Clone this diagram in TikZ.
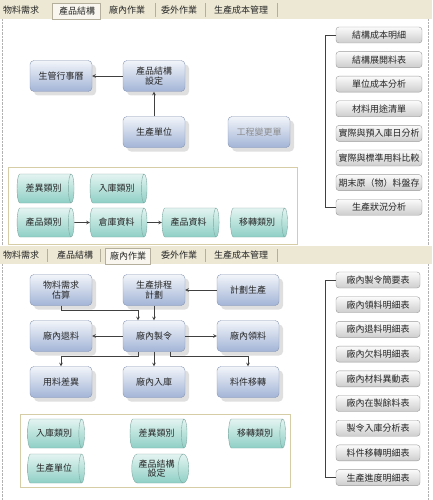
\documentclass[tikz,border=0pt]{standalone}
\usepackage{fontspec}
\setmainfont{Noto Sans CJK TC}
\usepackage{tikz}
\usetikzlibrary{shapes.geometric,shadows}
\usepackage{xcolor}
\definecolor{TabBeige}{HTML}{ECE8D4}
\definecolor{TabLine}{HTML}{B4AE9C}
\definecolor{TabAktif}{HTML}{F8F6EE}
\definecolor{BoxTop}{HTML}{F2F5FA}
\definecolor{BoxBot}{HTML}{A2B4D6}
\definecolor{BoxLine}{HTML}{8796B4}
\definecolor{CylTop}{HTML}{E4F4F1}
\definecolor{CylBot}{HTML}{8ECFC5}
\definecolor{CylLine}{HTML}{7FA9A2}
\definecolor{RepTop}{HTML}{FBFBFB}
\definecolor{RepBot}{HTML}{CDCDCD}
\definecolor{RepLine}{HTML}{9A9A9A}
\definecolor{FrameTan}{HTML}{D6CDA6}
\definecolor{TextGray}{HTML}{262626}

\begin{document}
\begin{tikzpicture}[x=1pt,y=-1pt,
    blok/.style={draw=BoxLine,rounded corners=4pt,top color=BoxTop,bottom color=BoxBot,
      minimum width=62pt,minimum height=31pt,inner sep=1pt,align=center,text=TextGray,
      font=\fontsize{9}{9.5}\selectfont,
      drop shadow={shadow xshift=4pt,shadow yshift=-4pt,fill=black!25,opacity=.5}},
    tabung/.style={cylinder,draw=CylLine,top color=CylTop,bottom color=CylBot,
      minimum width=29pt,minimum height=57pt,aspect=0.55,inner sep=1pt,align=center,
      text=TextGray,font=\fontsize{9}{9}\selectfont},
    laporan/.style={draw=RepLine,rounded corners=3pt,top color=RepTop,bottom color=RepBot,
      minimum width=86pt,minimum height=16pt,inner sep=1pt,text=TextGray,
      font=\fontsize{9}{9}\selectfont},
    tabteks/.style={text=TextGray,font=\fontsize{9}{9}\selectfont,inner sep=1pt},
    panah/.style={semithick,-stealth,black!75},
    garis/.style={semithick,black!75}]

    \useasboundingbox (0,0) rectangle (432,500);

    % Gambar batas panel (garis titik-titik)
    \draw[black!30,densely dotted] (2,19)--(2,246);
    \draw[black!30,densely dotted] (2,264)--(2,500);
    \draw[black!30,densely dotted] (428,19)--(428,246);
    \draw[black!30,densely dotted] (428,264)--(428,500);

    % Gambar bilah tab atas
    \fill[TabBeige] (0,0) rectangle (432,19);
    \filldraw[draw=TabLine,fill=TabAktif] (52,3) rectangle (100,19);
    \draw[TabLine] (155,3)--(155,17) (205,3)--(205,17) (277,3)--(277,17);
    \node[tabteks] (tA1) at (21,10) {物料需求};
    \node[tabteks] (tA2) at (77,11) {產品結構};
    \node[tabteks] (tA3) at (127,10) {廠內作業};
    \node[tabteks] (tA4) at (179,10) {委外作業};
    \node[tabteks] (tA5) at (241,10) {生產成本管理};

    % Gambar kotak proses panel atas
    \node[blok] (kalender) at (61,76) {生管行事曆};
    \node[blok] (struktur) at (154,76) {產品結構\\設定};
    \node[blok] (unit) at (154,132) {生產單位};
    \node[blok,text=black!45] (ecn) at (259,132) {工程變更單};
    \draw[panah] (struktur) -- (kalender);
    \draw[panah] (unit) -- (struktur);

    % Gambar wadah data master panel atas
    \draw[FrameTan,thick] (8,167) rectangle (297,244);
    \node[tabung] (selisihA) at (43.5,188.5) {差異類別};
    \node[tabung] (masukA) at (116.5,188.5) {入庫類別};
    \node[tabung] (kategori) at (43.5,222.5) {產品類別};
    \node[tabung] (gudang) at (116.5,222.5) {倉庫資料};
    \node[tabung] (produk) at (188.5,222.5) {產品資料};
    \node[tabung] (pindahA) at (257,222.5) {移轉類別};
    \draw[panah] (kategori) -- (gudang);
    \draw[panah] (gudang) -- (produk);

    % Gambar daftar laporan panel atas
    \node[laporan] (ra1) at (379,35) {結構成本明細};
    \node[laporan] (ra2) at (379,59.6) {結構展開料表};
    \node[laporan] (ra3) at (379,84.2) {單位成本分析};
    \node[laporan] (ra4) at (379,108.8) {材料用途清單};
    \node[laporan] (ra5) at (379,133.4) {實際與預入庫日分析};
    \node[laporan] (ra6) at (379,158) {實際與標準用料比較};
    \node[laporan] (ra7) at (379,182.6) {期末原（物）料盤存};
    \node[laporan] (ra8) at (379,207.2) {生產狀況分析};
    \draw[garis] (ra1.west) -- ++(-11,0) |- (ra8.west);

    % Gambar bilah tab bawah
    \fill[TabBeige] (0,246) rectangle (432,264);
    \filldraw[draw=TabLine,fill=TabAktif] (105,248) rectangle (150,264);
    \draw[TabLine] (47,249)--(47,262) (100,249)--(100,262) (205,249)--(205,262) (277,249)--(277,262);
    \node[tabteks] (tB1) at (21,255) {物料需求};
    \node[tabteks] (tB2) at (75,255) {產品結構};
    \node[tabteks] (tB3) at (128,256) {廠內作業};
    \node[tabteks] (tB4) at (179,255) {委外作業};
    \node[tabteks] (tB5) at (241,255) {生產成本管理};

    % Gambar kotak proses panel bawah
    \node[blok] (estimasi) at (61,290) {物料需求\\估算};
    \node[blok] (jadwal) at (154,290) {生產排程\\計劃};
    \node[blok] (rencana) at (248,290) {計劃生產};
    \node[blok] (retur) at (61,336) {廠內退料};
    \node[blok] (perintah) at (154,336) {廠內製令};
    \node[blok] (ambil) at (248,336) {廠內領料};
    \node[blok] (selisih) at (61,382) {用料差異};
    \node[blok] (masuk) at (154,382) {廠內入庫};
    \node[blok] (pindah) at (248,382) {料件移轉};

    % Gambar panah alur panel bawah
    \draw[panah] (rencana) -- (jadwal);
    \draw[panah] (jadwal) -- (perintah);
    \draw[panah] (estimasi.south) -- ++(0,5) -| ([xshift=-16pt]perintah.north);
    \draw[panah] (perintah) -- (retur);
    \draw[panah] (perintah) -- (ambil);
    \draw[panah] ([xshift=-16pt]perintah.south) -- ++(0,5) -| (selisih.north);
    \draw[panah] (perintah) -- (masuk);
    \draw[panah] ([xshift=16pt]perintah.south) -- ++(0,5) -| (pindah.north);

    % Gambar wadah data master panel bawah
    \draw[FrameTan,thick] (20,414) rectangle (290,487);
    \node[tabung] (masukB) at (54,433.5) {入庫類別};
    \node[tabung] (selisihB) at (156.5,433.5) {差異類別};
    \node[tabung] (pindahB) at (255,433.5) {移轉類別};
    \node[tabung] (unitB) at (54,468.5) {生產單位};
    \node[tabung] (strukturB) at (156.5,468.5) {產品結構\\設定};

    % Gambar daftar laporan panel bawah
    \node[laporan,minimum width=84pt] (rb1) at (378,280) {廠內製令簡要表};
    \node[laporan,minimum width=84pt] (rb2) at (378,304.7) {廠內領料明細表};
    \node[laporan,minimum width=84pt] (rb3) at (378,329.4) {廠內退料明細表};
    \node[laporan,minimum width=84pt] (rb4) at (378,354.1) {廠內欠料明細表};
    \node[laporan,minimum width=84pt] (rb5) at (378,378.8) {廠內材料異動表};
    \node[laporan,minimum width=84pt] (rb6) at (378,403.5) {廠內在製餘料表};
    \node[laporan,minimum width=84pt] (rb7) at (378,428.2) {製令入庫分析表};
    \node[laporan,minimum width=84pt] (rb8) at (378,452.9) {料件移轉明細表};
    \node[laporan,minimum width=84pt] (rb9) at (378,477.6) {生產進度明細表};
    \draw[garis] (rb1.west) -- ++(-11,0) |- (rb9.west);

\end{tikzpicture}
\end{document}
